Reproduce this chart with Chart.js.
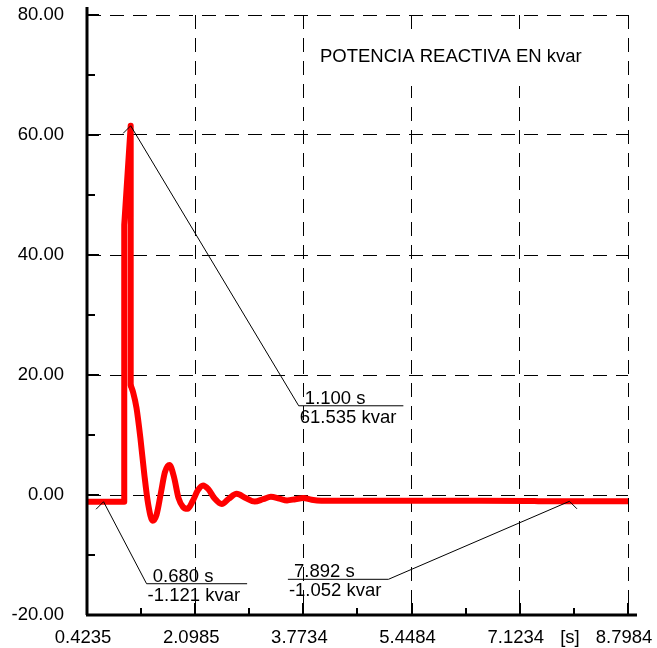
<!DOCTYPE html>
<html>
<head>
<meta charset="utf-8">
<script src="https://cdn.jsdelivr.net/npm/chart.js@4.4.0/dist/chart.umd.min.js"></script>
<style>
  html, body { margin: 0; padding: 0; background: #fff; }
  #wrap { width: 657px; height: 648px; }
</style>
</head>
<body>
<div id="wrap"><canvas id="qChart" width="657" height="648"></canvas></div>
<script>
// pre-fault level, switching step and peak (s, kvar)
const stepT = [0.4235, 1.000, 1.000, 1.100, 1.100];
const stepQ = [-1.121, -1.121, 45.0, 61.535, 18.3];

// damped swing after the peak
const ringT = [1.100, 1.140, 1.190, 1.250, 1.310, 1.370, 1.440, 1.500, 1.570, 1.630,
               1.700, 1.770, 1.840, 1.910, 1.980, 2.060, 2.140, 2.220, 2.300, 2.400,
               2.510, 2.620, 2.740, 2.880, 3.020, 3.150, 3.270, 3.400, 3.520, 3.650,
               3.770, 3.900, 4.050, 4.500, 5.500, 6.500, 7.250, 7.450, 7.892, 8.7984];
const ringQ = [18.3, 17.0, 14.5, 9.5, 3.5, -1.5, -4.3, -3.3, 0.5, 3.8,
               5.0, 3.0, -0.5, -2.0, -2.3, -1.0, 0.8, 1.6, 1.0, -0.6,
               -1.5, -0.6, 0.2, -0.5, -1.1, -0.7, -0.3, -0.6, -0.9, -0.7,
               -0.5, -0.8, -0.95, -0.95, -0.97, -0.97, -0.98, -1.05, -1.052, -1.05];

const xTickLabels = ['0.4235', '2.0985', '3.7734', '5.4484', '7.1234', '8.7984'];
const xUnit = '[s]';
const yTicks = [-20, 0, 20, 40, 60, 80];

// read-outs
const markT = [1.100, 0.680, 7.892];
const markQ = [61.535, -1.121, -1.052];
const chartTitle = 'POTENCIA REACTIVA EN kvar';

const FAMILY = '"Liberation Sans", Arial, sans-serif';
const FONT = '18.5px ' + FAMILY;
const RED = '#ff0000';

const toXY = (ts, qs) => ts.map((t, i) => ({ x: t, y: qs[i] }));

// major ticks from the labels, minor ticks half way between
const xMajor = xTickLabels.map(Number);
const xTickVals = [];
const xTickText = [];
xMajor.forEach((v, i) => {
  xTickVals.push(v); xTickText.push(xTickLabels[i]);
  if (i < xMajor.length - 1) {
    xTickVals.push((v + xMajor[i + 1]) / 2);
    xTickText.push(i === xMajor.length - 2 ? xUnit : '');
  }
});

// leader lines: elbow offset from the point, and which way the shelf runs
const callouts = [
  { dx: 168, dy: 280, dir: 1 },
  { dx: 43, dy: 82, dir: 1 },
  { dx: -181, dy: 78, dir: -1 }
];

const extras = {
  id: 'extras',
  beforeDatasetsDraw(chart) {
    const { ctx, chartArea: a } = chart;
    ctx.save();
    ctx.fillStyle = '#fff';
    ctx.fillRect(a.left + 222, a.top + 18, 292, 53);
    ctx.fillStyle = '#000';
    ctx.font = FONT;
    ctx.textBaseline = 'alphabetic';
    ctx.fillText(chartTitle, a.left + 233, a.top + 47);
    ctx.restore();
  },
  afterDatasetsDraw(chart) {
    const { ctx, chartArea: a, scales: { x, y } } = chart;
    ctx.save();
    ctx.strokeStyle = '#000';

    // axes
    ctx.lineWidth = 3;
    ctx.beginPath();
    ctx.moveTo(a.left, a.top - 8);
    ctx.lineTo(a.left, a.bottom);
    ctx.moveTo(a.left - 1, a.bottom);
    ctx.lineTo(a.right + 9, a.bottom);
    ctx.stroke();

    // inward tick marks
    ctx.lineWidth = 2;
    ctx.beginPath();
    for (let v = y.min; v <= y.max; v += 10) {
      const py = Math.round(y.getPixelForValue(v));
      const len = yTicks.includes(v) ? 12 : 8;
      ctx.moveTo(a.left, py);
      ctx.lineTo(a.left + len, py);
    }
    xTickVals.forEach((v, i) => {
      const px = Math.round(x.getPixelForValue(v));
      const len = i % 2 === 0 ? 12 : 7;
      ctx.moveTo(px, a.bottom);
      ctx.lineTo(px, a.bottom - len);
    });
    ctx.stroke();

    // value read-outs
    ctx.lineWidth = 1;
    ctx.font = FONT;
    ctx.fillStyle = '#000';
    markT.forEach((t, i) => {
      const c = callouts[i];
      const px = x.getPixelForValue(t);
      const py = y.getPixelForValue(markQ[i]);
      const l1 = ' ' + t.toFixed(3) + ' s';
      const l2 = markQ[i].toFixed(3) + ' kvar';
      const w = Math.max(ctx.measureText(l1).width, ctx.measureText(l2).width) + 8;
      const ex = px + c.dx, ey = py + c.dy;
      const left = c.dir > 0 ? ex : ex - w;
      ctx.beginPath();
      ctx.moveTo(px - c.dir * 7.5, py + 7.5);
      ctx.lineTo(px, py);
      ctx.lineTo(ex, ey);
      ctx.lineTo(ex + c.dir * w, ey);
      ctx.stroke();
      ctx.fillText(l1, left + 1, ey - 2);
      ctx.fillText(l2, left + 1, ey + 17);
    });
    ctx.restore();
  }
};

new Chart(document.getElementById('qChart'), {
  type: 'line',
  data: {
    datasets: [{
      data: toXY(stepT, stepQ),
      borderColor: RED,
      borderWidth: 6,
      tension: 0,
      pointRadius: 0,
      borderJoinStyle: 'round'
    }, {
      data: toXY(ringT, ringQ),
      borderColor: RED,
      borderWidth: 6,
      cubicInterpolationMode: 'monotone',
      pointRadius: 0,
      borderJoinStyle: 'round'
    }]
  },
  options: {
    responsive: false,
    animation: false,
    events: [],
    layout: { padding: { top: 15, right: 29, left: 0, bottom: 0 } },
    plugins: {
      legend: { display: false },
      tooltip: { enabled: false }
    },
    scales: {
      x: {
        type: 'linear',
        min: xMajor[0],
        max: xMajor[xMajor.length - 1],
        afterBuildTicks: s => { s.ticks = xTickVals.map(v => ({ value: v })); },
        afterFit: s => { s.height = 33; s.paddingLeft = 0; s.paddingRight = 0; },
        ticks: {
          autoSkip: false,
          maxRotation: 0,
          padding: 12,
          labelOffset: -4,
          color: '#000',
          font: { family: FAMILY, size: 18.5 },
          callback: (v, i) => xTickText[i]
        },
        grid: {
          drawTicks: false,
          lineWidth: 1,
          color: c => (c.index % 2 === 0 && c.index > 0) ? '#000' : 'rgba(0,0,0,0)'
        },
        border: { display: false, dash: [14, 9] }
      },
      y: {
        min: -20,
        max: 80,
        afterFit: s => { s.width = 87; s.paddingTop = 0; s.paddingBottom = 0; },
        ticks: {
          stepSize: 10,
          padding: 23,
          color: '#000',
          font: { family: FAMILY, size: 18.5 },
          callback: v => yTicks.includes(v) ? v.toFixed(2) : ''
        },
        grid: {
          drawTicks: false,
          lineWidth: 1,
          color: c => (c.tick && yTicks.includes(c.tick.value) && c.tick.value > -20) ? '#000' : 'rgba(0,0,0,0)'
        },
        border: { display: false, dash: [14, 9] }
      }
    }
  },
  plugins: [extras]
});
</script>
</body>
</html>
